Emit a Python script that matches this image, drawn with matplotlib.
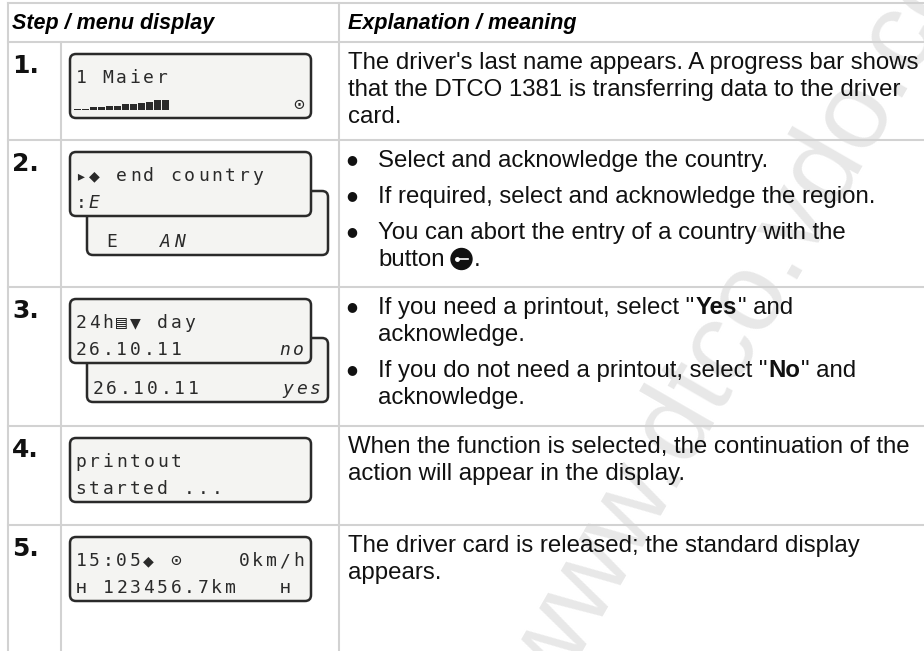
import matplotlib.pyplot as plt
from matplotlib.patches import FancyBboxPatch, Circle
import numpy as np

headers = ['Step / menu display', 'Explanation / meaning']
steps = ['1.', '2.', '3.', '4.', '5.']

# display screens: each line is a list of (cell, text, italic)
lcd_front = [
    [[(0, '1 Maier', False)], [(16, '⊙', False)]],
    [[(0, '▸◆ end country', False)], [(0, ':', False), (1, 'E', True)]],
    [[(0, '24h▤▼ day', False)], [(0, '26.10.11', False), (15, 'no', True)]],
    [[(0, 'printout', False)], [(0, 'started ...', False)]],
    [[(0, '15:05◆ ⊙    0km/h', False)], [(0, 'ʜ 123456.7km   ʜ', False)]],
]
lcd_back = [
    None,
    [(1, 'E', False), (5, 'AN', True)],
    [(0, '26.10.11', False), (14, 'yes', True)],
    None,
    None,
]
progress = [1, 1, 2, 2, 3, 3, 4, 4, 5, 6, 7, 7]

# **word** = bold, {btn} = back button icon
explanations = [
    (False, [["The driver's last name appears. A progress bar shows",
              "that the DTCO 1381 is transferring data to the driver",
              "card."]]),
    (True, [["Select and acknowledge the country."],
            ["If required, select and acknowledge the region."],
            ["You can abort the entry of a country with the", "button {btn}."]]),
    (True, [['If you need a printout, select "**Yes**" and', "acknowledge."],
            ['If you do not need a printout, select "**No**" and', "acknowledge."]]),
    (False, [["When the function is selected, the continuation of the",
              "action will appear in the display."]]),
    (False, [["The driver card is released; the standard display", "appears."]]),
]

row_edges = [42, 140, 287, 426, 525, 651]

W, H = 924, 651
fig = plt.figure(figsize=(W / 100, H / 100), dpi=100)
ax = fig.add_axes([0, 0, 1, 1])
ax.set_xlim(0, W)
ax.set_ylim(H, 0)
ax.axis('off')

# watermark
ax.text(555, 700, 'www.dtco.vdo.com', fontsize=80, color='#e8e8e8',
        family='Liberation Sans', rotation=60, rotation_mode='anchor',
        ha='left', va='baseline', zorder=0, clip_on=True)

# table grid
lc = '#d2d2d2'
lw = 1.5
ax.plot([8, W], [3, 3], color=lc, lw=lw)
for y in row_edges[:-1]:
    ax.plot([8, W], [y, y], color=lc, lw=lw)
ax.plot([8, 8], [3, H], color=lc, lw=lw)
ax.plot([61, 61], [42, H], color=lc, lw=lw)
ax.plot([339, 339], [3, H], color=lc, lw=lw)

ax.text(12, 29, headers[0], fontsize=15.5, weight='bold', style='italic',
        family='Liberation Sans', va='baseline')
ax.text(348, 29, headers[1], fontsize=15.5, weight='bold', style='italic',
        family='Liberation Sans', va='baseline')

pitch = 13.6
lcd_font = ['DejaVu Sans Mono', 'DejaVu Sans']


def lcd_box(x, y, lines, w=241, h=64):
    ax.add_patch(FancyBboxPatch((x, y), w, h,
                                boxstyle='round,pad=0,rounding_size=6',
                                fc='#f4f4f2', ec='#2a2a2a', lw=1.8, zorder=3))
    for k, segs in enumerate(lines):
        ty = y + (29 if k == 0 else 56)
        for cell, s, it in segs:
            for j, ch in enumerate(s):
                if ch == ' ':
                    continue
                ax.text(x + 4 + (cell + j + 0.5) * pitch, ty, ch,
                        fontsize=13, family=lcd_font, color='#2a2a2a',
                        style='italic' if it else 'normal',
                        ha='center', va='baseline', zorder=4)


renderer = fig.canvas.get_renderer()
body = dict(fontsize=17.3, family='Liberation Sans', color='#111111', va='baseline')


def rich_line(x, y, line):
    # draw a line piece by piece so bold words and the icon sit inline
    if '{btn}' in line:
        before, after = line.split('{btn}')
        t = ax.text(x, y, before.rstrip(), **body)
        cx = x + t.get_window_extent(renderer).width + 17
        ax.add_patch(Circle((cx, y - 7), 10.5, color='#111111', zorder=5))
        ax.plot([cx - 5, cx + 6], [y - 7, y - 7], color='white', lw=1.2, zorder=6)
        ax.plot([cx - 5], [y - 7], marker='o', ms=2.5, color='white', zorder=6)
        ax.text(cx + 12, y, after, **body)
        return
    pieces = line.split('**')
    for k, piece in enumerate(pieces):
        if not piece:
            continue
        t = ax.text(x, y, piece, weight='bold' if k % 2 else 'normal', **body)
        x += t.get_window_extent(renderer).width + (1 if k < len(pieces) - 1 else 0)


for i, top in enumerate(row_edges[:-1]):
    ax.text(12, top + 24, steps[i], fontsize=18, weight='bold',
            family='DejaVu Sans', va='center', color='#111111')

    bx, by = 70, top + 12
    if lcd_back[i] is not None:
        lcd_box(bx + 17, by + 39, [[], lcd_back[i]])
    lcd_box(bx, by, lcd_front[i])
    if i == 0:
        xs = bx + 4 + 8 * np.arange(len(progress))
        ax.bar(xs, -1.4 * np.array(progress), width=6.5, bottom=by + 56,
               align='edge', color='#2a2a2a', zorder=4)

    bullet, paras = explanations[i]
    tx = 378 if bullet else 348
    yb = top + 27
    for para in paras:
        if bullet:
            ax.text(352, yb - 7, '●', fontsize=9, ha='center', va='center',
                    color='#111111', family='DejaVu Sans')
        for line in para:
            rich_line(tx, yb, line)
            yb += 27
        yb += 9

fig.savefig('out.png', dpi=100)
